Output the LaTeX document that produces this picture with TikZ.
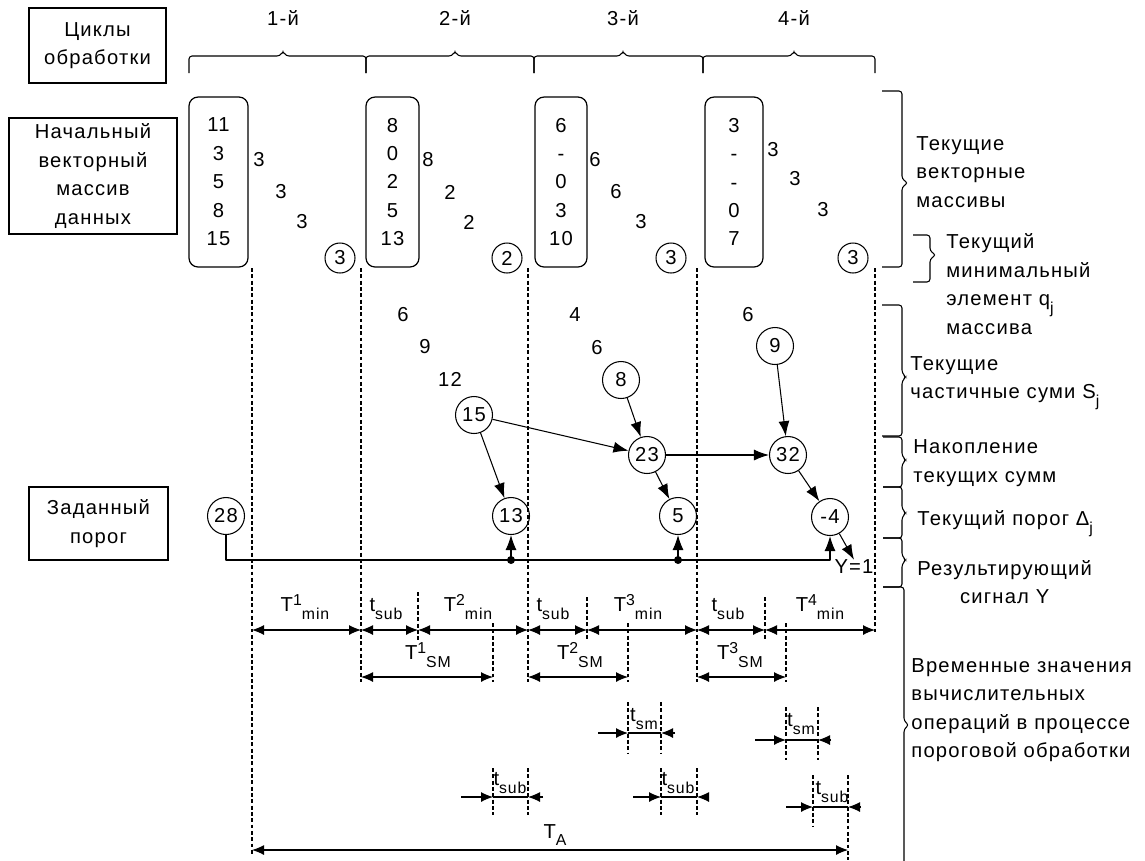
\documentclass[tikz,border=0pt]{standalone}
\usepackage{fontspec}
\setmainfont{Liberation Sans}[LetterSpace=6]
\usepackage{tikz}
\usetikzlibrary{arrows.meta, calc}
\newcommand{\up}[1]{\raisebox{3.4pt}{\fontsize{9}{9}\selectfont #1}}
\newcommand{\dn}[1]{\raisebox{-4.5pt}{\fontsize{9}{9}\selectfont #1}}
\tikzset{%
  label_box/.style={%
    rectangle,%
    draw=black,%
    line width=0.9pt,%
    inner sep=0pt,%
    align=center%
  },
  array_block/.style={%
    rectangle,%
    rounded corners=0.18cm,%
    draw=black,%
    line width=0.7pt,%
    minimum height=3.4cm,%
    inner sep=0pt,%
    align=center%
  },
  value/.style={%
    circle,%
    draw=black,%
    line width=0.6pt,%
    minimum size=0.74cm,%
    inner sep=0pt,%
  },
  min_value/.style={%
    value,%
    minimum size=0.6cm,%
  },
  link/.style={%
    color=black,%
    line width=0.6pt,%
    line join=round%
  },
  guide/.style={%
    line width=0.6pt,%
    dash pattern=on 2.2pt off 1.4pt%
  },
  brace/.style={%
    line width=0.6pt,%
    rounded corners=0.06cm%
  },
  annotate/.style={%
    inner sep=0pt,%
    align=left%
  },
  arrow/.style={-{Latex[length=0.3cm, width=0.22cm]}},
  dim_arrow/.style={{Latex[length=0.24cm, width=0.2cm]}-{Latex[length=0.24cm, width=0.2cm]}},
  half_arrow/.style={-{Latex[length=0.24cm, width=0.2cm]}},
}
\begin{document}
\begin{tikzpicture}[x=0.02cm, y=-0.02cm, font=\fontsize{11.5}{16.2}\selectfont]

    \useasboundingbox (0,0) rectangle (1145,860);

    % headings on the left
    \node [label_box, minimum width=2.74cm, minimum height=1.5cm]
      (cycles) at (97.5,45.5) {Циклы\\обработки};
    \node [label_box, minimum width=3.36cm, minimum height=2.32cm]
      (source) at (93,176) {Начальный\\векторный\\массив\\данных};
    \node [label_box, minimum width=2.78cm, minimum height=1.46cm]
      (limit) at (98.5,523.5) {Заданный\\порог};

    % cycles
    \node (cyc1) at (283,18) {1-й};
    \node (cyc2) at (455,18) {2-й};
    \node (cyc3) at (623,18) {3-й};
    \node (cyc4) at (794,18) {4-й};
    \draw [brace] (189,73) |- (280,56) -- (283,51) -- (286,56) -| (366,73);
    \draw [brace] (366,73) |- (452,56) -- (455,51) -- (458,56) -| (534,73);
    \draw [brace] (534,73) |- (620,56) -- (623,51) -- (626,56) -| (703,73);
    \draw [brace] (703,73) |- (791,56) -- (794,51) -- (797,56) -| (875,73);

    % vector arrays and their minima
    \node [array_block, minimum width=1.18cm] (arr1) at (218.5,182) {11\\3\\5\\8\\15};
    \node [array_block, minimum width=1.06cm] (arr2) at (392.5,182) {8\\0\\2\\5\\13};
    \node [array_block, minimum width=1.04cm] (arr3) at (561,182) {6\\-\\0\\3\\10};
    \node [array_block, minimum width=1.16cm] (arr4) at (734,182) {3\\-\\-\\0\\7};

    \node (a1) at (259,160) {3};
    \node (b1) at (281,192) {3};
    \node (c1) at (302,222) {3};
    \node [min_value] (q1) at (340,258) {3};
    \node (a2) at (428,160) {8};
    \node (b2) at (450,192) {2};
    \node (c2) at (469,222) {2};
    \node [min_value] (q2) at (507,258) {2};
    \node (a3) at (595,160) {6};
    \node (b3) at (616,192) {6};
    \node (c3) at (641,222) {3};
    \node [min_value] (q3) at (671,258) {3};
    \node (a4) at (773,150) {3};
    \node (b4) at (795,179) {3};
    \node (c4) at (823,210) {3};
    \node [min_value] (q4) at (853,258) {3};

    % partial sums
    \node (p1) at (403,315) {6};
    \node (p2) at (425,347) {9};
    \node (p3) at (450,379) {12};
    \node [value] (s15) at (474,415) {15};
    \node (p4) at (575,315) {4};
    \node (p5) at (597,348) {6};
    \node [value] (s8) at (621,380) {8};
    \node (p6) at (748,315) {6};
    \node [value] (s9) at (775,346) {9};
    \node [value] (s23) at (647,455) {23};
    \node [value] (s32) at (788,455) {32};

    % thresholds
    \node [value] (d28) at (226,516) {28};
    \node [value] (d13) at (511,516) {13};
    \node [value] (d5) at (678,516) {5};
    \node [value] (dm4) at (830,517) {-4};
    \node [inner sep=0pt] (y) at (854,567) {Y=1};

    \draw [arrow, link] (s15) -- (d13);
    \draw [arrow, link] (s15) -- (s23);
    \draw [arrow, link] (s8) -- (s23);
    \draw [arrow, link] (s23) -- (s32);
    \draw [arrow, link] (s23) -- (d5);
    \draw [arrow, link] (s9) -- (s32);
    \draw [arrow, link] (s32) -- (dm4);
    \draw [arrow, link] (dm4) -- (y.north);

    \coordinate (bus) at (0,560);
    \coordinate (tap13) at (d13.south |- bus);
    \coordinate (tap5) at (d5.south |- bus);
    \draw [arrow, link]
      (d28.south)
      |-
      (tap13)
      --
      (tap5)
      --
      (dm4.south |- bus)
      --
      (dm4.south);
    \draw [arrow, link] (tap13) -- (d13.south);
    \draw [arrow, link] (tap5) -- (d5.south);
    \fill (tap13) circle (4);
    \fill (tap5) circle (4);

    % guides
    \draw [guide] (252,268) -- (252,856);
    \draw [guide] (361,268) -- (361,682);
    \draw [guide] (528,268) -- (528,682);
    \draw [guide] (697,268) -- (697,682);
    \draw [guide] (875,268) -- (875,632);
    \draw [guide] (418,592) -- (418,640);
    \draw [guide] (587,597) -- (587,640);
    \draw [guide] (765,597) -- (765,640);
    \draw [guide] (493,623) -- (493,682);
    \draw [guide] (628,623) -- (628,682);
    \draw [guide] (786,623) -- (786,682);
    \draw [guide] (628,702) -- (628,753);
    \draw [guide] (661,702) -- (661,753);
    \draw [guide] (786,707) -- (786,760);
    \draw [guide] (818,707) -- (818,760);
    \draw [guide] (493,768) -- (493,815);
    \draw [guide] (528,768) -- (528,815);
    \draw [guide] (661,768) -- (661,815);
    \draw [guide] (697,768) -- (697,815);
    \draw [guide] (813,775) -- (813,827);
    \draw [guide] (848,775) -- (848,860);

    % time marks
    \coordinate (g0) at (252,0);
    \coordinate (g1) at (361,0);
    \coordinate (g2) at (528,0);
    \coordinate (g3) at (697,0);
    \coordinate (g4) at (875,0);
    \coordinate (s1) at (418,0);
    \coordinate (s2) at (587,0);
    \coordinate (s3) at (765,0);
    \coordinate (m1) at (493,0);
    \coordinate (m2) at (628,0);
    \coordinate (m3) at (786,0);
    \coordinate (e2) at (661,0);
    \coordinate (e3) at (818,0);
    \coordinate (f3) at (813,0);
    \coordinate (ta) at (848,0);
    \coordinate (r1) at (0,630);
    \coordinate (r2) at (0,677);
    \coordinate (r3) at (0,733);
    \coordinate (r3b) at (0,740);
    \coordinate (r4) at (0,797);
    \coordinate (r4b) at (0,807);
    \coordinate (r5) at (0,850);

    \draw [dim_arrow, link] (g0 |- r1) -- (g1 |- r1);
    \draw [dim_arrow, link] (g1 |- r1) -- (s1 |- r1);
    \draw [dim_arrow, link] (s1 |- r1) -- (g2 |- r1);
    \draw [dim_arrow, link] (g2 |- r1) -- (s2 |- r1);
    \draw [dim_arrow, link] (s2 |- r1) -- (g3 |- r1);
    \draw [dim_arrow, link] (g3 |- r1) -- (s3 |- r1);
    \draw [dim_arrow, link] (s3 |- r1) -- (g4 |- r1);
    \node (tmin1) at (305,607) {T\up{1}\dn{min}};
    \node (tsub1) at (386,609) {t\dn{sub}};
    \node (tmin2) at (468,607) {T\up{2}\dn{min}};
    \node (tsub2) at (553,609) {t\dn{sub}};
    \node (tmin3) at (638,607) {T\up{3}\dn{min}};
    \node (tsub3) at (728,609) {t\dn{sub}};
    \node (tmin4) at (820,607) {T\up{4}\dn{min}};

    \draw [dim_arrow, link] (g1 |- r2) -- (m1 |- r2);
    \draw [dim_arrow, link] (g2 |- r2) -- (m2 |- r2);
    \draw [dim_arrow, link] (g3 |- r2) -- (m3 |- r2);
    \node (tsm1) at (428,655) {T\up{1}\dn{SM}};
    \node (tsm2) at (580,655) {T\up{2}\dn{SM}};
    \node (tsm3) at (740,655) {T\up{3}\dn{SM}};

    \draw [half_arrow, link] ($(m2 |- r3)+(-30,0)$) -- (m2 |- r3);
    \draw [link] (m2 |- r3) -- (e2 |- r3);
    \draw [half_arrow, link] ($(e2 |- r3)+(14,0)$) -- (e2 |- r3);
    \node (dsm1) at (644,719) {t\dn{sm}};
    \draw [half_arrow, link] ($(m3 |- r3b)+(-31,0)$) -- (m3 |- r3b);
    \draw [link] (m3 |- r3b) -- (e3 |- r3b);
    \draw [half_arrow, link] ($(e3 |- r3b)+(13,0)$) -- (e3 |- r3b);
    \node (dsm2) at (801,724) {t\dn{sm}};

    \draw [half_arrow, link] ($(m1 |- r4)+(-32,0)$) -- (m1 |- r4);
    \draw [link] (m1 |- r4) -- (g2 |- r4);
    \draw [half_arrow, link] ($(g2 |- r4)+(15,0)$) -- (g2 |- r4);
    \node (dsub1) at (510,783) {t\dn{sub}};
    \draw [half_arrow, link] ($(e2 |- r4)+(-28,0)$) -- (e2 |- r4);
    \draw [link] (e2 |- r4) -- (g3 |- r4);
    \draw [half_arrow, link] ($(g3 |- r4)+(12,0)$) -- (g3 |- r4);
    \node (dsub2) at (678,783) {t\dn{sub}};
    \draw [half_arrow, link] ($(f3 |- r4b)+(-27,0)$) -- (f3 |- r4b);
    \draw [link] (f3 |- r4b) -- (ta |- r4b);
    \draw [half_arrow, link] ($(ta |- r4b)+(13,0)$) -- (ta |- r4b);
    \node (dsub3) at (832,792) {t\dn{sub}};

    \draw [dim_arrow, link] (g0 |- r5) -- (ta |- r5);
    \node (total) at (555,835) {T\dn{A}};

    % notes on the right
    \draw [brace] (882,91) -| (902,179) -- (908,183) -- (902,187) |- (882,267);
    \draw [brace] (913,235) -| (930,251) -- (936,255) -- (930,259) |- (913,282);
    \draw [brace] (882,305) -| (902,373) -- (906,377) -- (902,381) |- (882,436);
    \draw [brace] (883,437) -| (902,456) -- (906,460) -- (902,464) |- (883,487);
    \draw [brace] (883,487) -| (902,509) -- (906,513) -- (902,517) |- (883,538);
    \draw [brace] (883,538) -| (902,556) -- (906,560) -- (902,564) |- (883,587);
    \draw [brace] (883,587) -| (904,721) -- (909,725) -- (904,729) -- (904,862);

    \node [annotate, anchor=west] (arrays_note) at (916,172)
      {Текущие\\векторные\\массивы};
    \node [annotate, anchor=west] (min_note) at (946,284)
      {Текущий\\минимальный\\элемент q\dn{j}\\массива};
    \node [annotate, anchor=west] (sums_note) at (910,383)
      {Текущие\\частичные суми S\dn{j}};
    \node [annotate, anchor=west] (acc_note) at (913,463)
      {Накопление\\текущих сумм};
    \node [annotate, anchor=west] (limit_note) at (917,524)
      {Текущий порог Δ\dn{j}};
    \node [annotate, anchor=west, align=center] (out_note) at (917,582)
      {Результирующий\\сигнал Y};
    \node [annotate, anchor=west] (time_note) at (911,710)
      {Временные значения\\вычислительных\\операций в процессе\\пороговой обработки};

  \end{tikzpicture}
\end{document}
